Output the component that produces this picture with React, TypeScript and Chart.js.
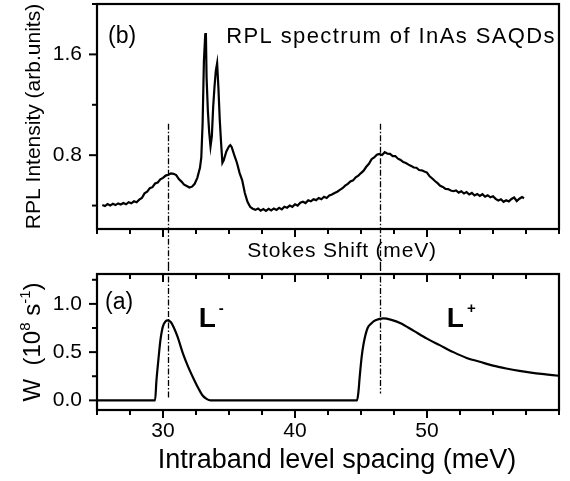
import { useEffect, useRef } from "react";
import { Chart, registerables } from "chart.js";

Chart.register(...registerables);

const FONT = '"Liberation Sans", Arial, Helvetica, sans-serif';

// ---- Panel (b): RPL spectrum (Stokes shift in meV, intensity in arb. units)
const rplShift = [
  25.4, 25.6, 25.8, 26.0, 26.2, 26.4, 26.6, 26.8, 27.0, 27.2, 27.4, 27.6, 27.8, 28.0, 28.2, 28.4, 28.6, 28.8,
  29.0, 29.2, 29.4, 29.6, 29.8, 30.0, 30.2, 30.4, 30.6, 30.8, 31.0, 31.2, 31.4, 31.6, 31.8, 32.0, 32.2, 32.4,
  32.6, 32.8, 32.9, 33.0, 33.1, 33.2, 33.25, 33.3, 33.4, 33.5, 33.6, 33.7, 33.8, 33.9, 34.0, 34.1, 34.2, 34.3,
  34.4, 34.5, 34.6, 34.8, 35.0, 35.1, 35.2, 35.4, 35.6, 35.8, 36.0, 36.2, 36.4, 36.6, 36.8, 37.0, 37.2, 37.4,
  37.6, 37.8, 38.0, 38.2, 38.4, 38.6, 38.8, 39.0, 39.2, 39.4, 39.6, 39.8, 40.0, 40.2, 40.4, 40.6, 40.8, 41.0,
  41.2, 41.4, 41.6, 41.8, 42.0, 42.2, 42.4, 42.6, 42.8, 43.0, 43.2, 43.4, 43.6, 43.8, 44.0, 44.2, 44.4, 44.6,
  44.8, 45.0, 45.2, 45.4, 45.6, 45.8, 46.0, 46.2, 46.4, 46.6, 46.8, 47.0, 47.2, 47.4, 47.6, 47.8, 48.0, 48.2,
  48.4, 48.6, 48.8, 49.0, 49.2, 49.4, 49.6, 49.8, 50.0, 50.2, 50.4, 50.6, 50.8, 51.0, 51.2, 51.4, 51.6, 51.8,
  52.0, 52.2, 52.4, 52.6, 52.8, 53.0, 53.2, 53.4, 53.6, 53.8, 54.0, 54.2, 54.4, 54.6, 54.8, 55.0, 55.2, 55.4,
  55.6, 55.8, 56.0, 56.2, 56.4, 56.6, 56.8, 57.0, 57.2, 57.35,
];
const rplIntensity = [
  0.405, 0.396, 0.412, 0.4, 0.414, 0.404, 0.417, 0.408, 0.42, 0.41, 0.427, 0.418, 0.434, 0.426, 0.447, 0.46, 0.497, 0.51,
  0.538, 0.546, 0.575, 0.583, 0.608, 0.62, 0.638, 0.645, 0.655, 0.652, 0.642, 0.61, 0.59, 0.566, 0.555, 0.543, 0.55, 0.573,
  0.62, 0.7, 0.78, 1.05, 1.55, 1.76, 1.77, 1.42, 1.15, 0.98, 0.87, 0.95, 1.18, 1.34, 1.47, 1.53, 1.33, 1.08,
  0.9, 0.74, 0.76, 0.83, 0.87, 0.88, 0.865, 0.8, 0.74, 0.66, 0.6, 0.5, 0.43, 0.39, 0.375, 0.366, 0.377, 0.36,
  0.372, 0.358, 0.374, 0.361, 0.377, 0.366, 0.382, 0.37, 0.39, 0.383, 0.4, 0.39, 0.41, 0.4, 0.422, 0.43, 0.42, 0.442,
  0.434, 0.45, 0.443, 0.46, 0.45, 0.47, 0.46, 0.48, 0.488, 0.5, 0.51, 0.525, 0.538, 0.558, 0.572, 0.592, 0.6, 0.625,
  0.638, 0.658, 0.677, 0.708, 0.732, 0.768, 0.782, 0.803, 0.81, 0.802, 0.824, 0.812, 0.81, 0.792, 0.793, 0.772, 0.762, 0.745,
  0.738, 0.725, 0.715, 0.702, 0.7, 0.682, 0.68, 0.67, 0.662, 0.632, 0.615, 0.595, 0.578, 0.557, 0.548, 0.532, 0.531, 0.52,
  0.514, 0.52, 0.503, 0.514, 0.496, 0.507, 0.488, 0.5, 0.48, 0.492, 0.476, 0.49, 0.47, 0.482, 0.466, 0.474, 0.453, 0.44,
  0.45, 0.43, 0.442, 0.433, 0.452, 0.464, 0.436, 0.454, 0.467, 0.458,
];

// ---- Panel (a): transition rate W (1e8 s^-1) vs intraband level spacing (meV)
const levelSpacing = [
  25, 29.4, 29.5, 29.65, 29.8, 30.0, 30.2, 30.35, 30.6, 30.8, 31.1, 31.5, 31.9, 32.3, 32.7, 33.0, 33.3, 33.6,
  44.7, 44.8, 44.9, 45.05, 45.2, 45.5, 45.8, 46.1, 46.7, 47.3, 48.0, 49.0, 50.0, 51.0, 52.0, 53.0, 54.0, 55.0,
  56.0, 57.0, 58.0, 59.0, 60.0,
];
const transitionRate = [
  0, 0, 0.2, 0.42, 0.62, 0.77, 0.82, 0.83, 0.81, 0.76, 0.66, 0.49, 0.35, 0.23, 0.12, 0.05, 0.015, 0,
  0, 0.08, 0.24, 0.45, 0.59, 0.75, 0.8, 0.83, 0.85, 0.835, 0.8, 0.72, 0.64, 0.57, 0.5, 0.44, 0.4, 0.36,
  0.33, 0.305, 0.285, 0.27, 0.255,
];

// dash-dot guide lines linking the peaks of both panels
const markerShifts = [30.38, 46.45];
const rplMarkerTop = [1.05, 1.05];
const rateMarkerBottom = [0.02, 0.07];

// tick labels
const xMajorLabels = [30, 40, 50];
const rplMajorLabels = [0.8, 1.6];
const rateMajorLabels = [0, 0.5, 1.0];

const X_MIN = 25;
const X_MAX = 60;
const X_STEP = 2.5;

const isIn = (v: number, arr: number[]) => arr.some((a) => Math.abs(a - v) < 1e-6);

function seg(ctx: CanvasRenderingContext2D, x1: number, y1: number, x2: number, y2: number) {
  ctx.beginPath();
  ctx.moveTo(x1, y1);
  ctx.lineTo(x2, y2);
  ctx.stroke();
}

function txt(
  ctx: CanvasRenderingContext2D,
  s: string,
  x: number,
  y: number,
  font: string,
  align: CanvasTextAlign = "left",
  spacing = "0px"
) {
  ctx.font = font;
  ctx.textAlign = align;
  ctx.textBaseline = "alphabetic";
  (ctx as any).letterSpacing = spacing;
  ctx.fillStyle = "#000";
  ctx.fillText(s, x, y);
  (ctx as any).letterSpacing = "0px";
}

function drawFrame(chart: any, yMajors: number[], topInward: boolean) {
  const ctx: CanvasRenderingContext2D = chart.ctx;
  const a = chart.chartArea;
  const xs = chart.scales.x;
  const ys = chart.scales.y;
  ctx.strokeStyle = "#000";
  ctx.setLineDash([]);
  ctx.lineWidth = 2.2;
  ctx.strokeRect(a.left, a.top, a.right - a.left, a.bottom - a.top);
  ctx.lineWidth = 2;
  xs.ticks.forEach((t: any) => {
    const px = xs.getPixelForValue(t.value);
    const len = isIn(t.value, xMajorLabels) ? 8 : 5;
    seg(ctx, px, a.bottom, px, a.bottom + len);
    if (topInward) seg(ctx, px, a.top, px, a.top + len);
  });
  ys.ticks.forEach((t: any) => {
    const py = ys.getPixelForValue(t.value);
    const len = isIn(t.value, yMajors) ? 8 : 5;
    seg(ctx, a.left - len, py, a.left, py);
  });
}

function drawMarkers(chart: any, fromValueDown: boolean, yVals: number[]) {
  const ctx: CanvasRenderingContext2D = chart.ctx;
  const xs = chart.scales.x;
  const ys = chart.scales.y;
  ctx.save();
  ctx.strokeStyle = "#000";
  ctx.lineWidth = 1.3;
  ctx.setLineDash([6, 2, 1.5, 2]);
  markerShifts.forEach((m, i) => {
    const px = Math.round(xs.getPixelForValue(m)) + 0.5;
    const py = ys.getPixelForValue(yVals[i]);
    if (fromValueDown) seg(ctx, px, py, px, chart.height);
    else seg(ctx, px, 0, px, py);
  });
  ctx.restore();
}

const topDeco = {
  id: "topDeco",
  afterDraw(chart: any) {
    const ctx: CanvasRenderingContext2D = chart.ctx;
    const a = chart.chartArea;
    ctx.save();
    drawFrame(chart, rplMajorLabels, false);
    drawMarkers(chart, true, rplMarkerTop);
    txt(ctx, "(b)", a.left + 11, a.top + 39, `23px ${FONT}`);
    txt(ctx, "RPL spectrum of InAs SAQDs", a.right - 3, a.top + 39, `22px ${FONT}`, "right", "1.4px");
    txt(ctx, "Stokes Shift (meV)", (a.left + a.right) / 2 + 14, a.bottom + 28, `21px ${FONT}`, "center", "0.8px");
    ctx.save();
    ctx.translate(40, (a.top + a.bottom) / 2);
    ctx.rotate(-Math.PI / 2);
    txt(ctx, "RPL Intensity (arb.units)", 0, 0, `21px ${FONT}`, "center");
    ctx.restore();
    ctx.restore();
  },
};

const botDeco = {
  id: "botDeco",
  afterDraw(chart: any) {
    const ctx: CanvasRenderingContext2D = chart.ctx;
    const a = chart.chartArea;
    const xs = chart.scales.x;
    const ys = chart.scales.y;
    ctx.save();
    drawFrame(chart, rateMajorLabels, true);
    drawMarkers(chart, false, rateMarkerBottom);
    txt(ctx, "(a)", a.left + 8, a.top + 35, `23px ${FONT}`);
    // L- and L+ labels
    const bold = `bold 28px ${FONT}`;
    const sup = `bold 15px ${FONT}`;
    const lab = (xv: number, sign: string) => {
      const px = xs.getPixelForValue(xv);
      const py = ys.getPixelForValue(0.76);
      txt(ctx, "L", px, py, bold);
      ctx.font = bold;
      const w = ctx.measureText("L").width;
      txt(ctx, sign, px + w + 3, py - 14, sup);
    };
    lab(32.7, "-");
    lab(51.5, "+");
    // y title with superscripts
    ctx.save();
    ctx.translate(40, (a.top + a.bottom) / 2);
    ctx.rotate(-Math.PI / 2);
    const big = `24px ${FONT}`;
    const small = `15px ${FONT}`;
    const parts: [string, string, number][] = [
      ["W  (10", big, 0],
      ["8", small, -10],
      [" s", big, 0],
      ["-1", small, -10],
      [")", big, 0],
    ];
    let total = 0;
    parts.forEach(([s, f]) => {
      ctx.font = f;
      total += ctx.measureText(s).width;
    });
    let x = -total / 2;
    parts.forEach(([s, f, dy]) => {
      txt(ctx, s, x, dy, f);
      ctx.font = f;
      x += ctx.measureText(s).width;
    });
    ctx.restore();
    txt(ctx, "Intraband level spacing (meV)", (a.left + a.right) / 2 + 9, a.bottom + 58, `27px ${FONT}`, "center");
    ctx.restore();
  },
};

function commonX(showLabels: boolean, height: number) {
  return {
    type: "linear" as const,
    min: X_MIN,
    max: X_MAX,
    ticks: {
      display: showLabels,
      stepSize: X_STEP,
      autoSkip: false,
      includeBounds: false,
      maxRotation: 0,
      minRotation: 0,
      padding: 9,
      color: "#000",
      font: { family: FONT, size: 21 },
      callback: (v: any) => (isIn(Number(v), xMajorLabels) ? String(v) : ""),
    },
    grid: { display: false, drawTicks: false },
    border: { display: false },
    afterFit: (s: any) => {
      s.height = height;
      s.paddingLeft = 0;
      s.paddingRight = 0;
    },
  };
}

function yScale(min: number, max: number, step: number, majors: number[]) {
  return {
    type: "linear" as const,
    min,
    max,
    ticks: {
      stepSize: step,
      autoSkip: false,
      includeBounds: false,
      padding: 15,
      color: "#000",
      font: { family: FONT, size: 21 },
      callback: (v: any) => (isIn(Number(v), majors) ? Number(v).toFixed(1) : ""),
    },
    grid: { display: false, drawTicks: false },
    border: { display: false },
    afterFit: (s: any) => {
      s.width = 97;
      s.paddingTop = 0;
      s.paddingBottom = 0;
    },
  };
}

export default function App() {
  const topRef = useRef<HTMLCanvasElement>(null);
  const botRef = useRef<HTMLCanvasElement>(null);

  useEffect(() => {
    const top = new Chart(topRef.current!, {
      type: "line",
      data: {
        datasets: [
          {
            data: rplShift.map((x, i) => ({ x, y: rplIntensity[i] })),
            borderColor: "#000",
            borderWidth: 2.2,
            pointRadius: 0,
            tension: 0,
          },
        ],
      },
      options: {
        responsive: false,
        animation: false,
        devicePixelRatio: 1,
        layout: { padding: { top: 4, right: 11, left: 0, bottom: 0 }, autoPadding: false },
        plugins: { legend: { display: false }, tooltip: { enabled: false } },
        scales: {
          x: commonX(false, 36),
          y: yScale(0.214, 2.0, 0.4, rplMajorLabels),
        },
      } as any,
      plugins: [topDeco],
    });

    const bot = new Chart(botRef.current!, {
      type: "line",
      data: {
        datasets: [
          {
            data: levelSpacing.map((x, i) => ({ x, y: transitionRate[i] })),
            borderColor: "#000",
            borderWidth: 2.2,
            pointRadius: 0,
            cubicInterpolationMode: "monotone",
          },
        ],
      },
      options: {
        responsive: false,
        animation: false,
        devicePixelRatio: 1,
        layout: { padding: { top: 9, right: 11, left: 0, bottom: 0 }, autoPadding: false },
        plugins: { legend: { display: false }, tooltip: { enabled: false } },
        scales: {
          x: commonX(true, 71),
          y: yScale(-0.1, 1.31, 0.25, rateMajorLabels),
        },
      } as any,
      plugins: [botDeco],
    });

    return () => {
      top.destroy();
      bot.destroy();
    };
  }, []);

  return (
    <div style={{ position: "absolute", left: 0, top: 0, width: 570, height: 481, background: "#fff" }}>
      <canvas ref={topRef} width={570} height={265} style={{ position: "absolute", left: 0, top: 0 }} />
      <canvas ref={botRef} width={570} height={216} style={{ position: "absolute", left: 0, top: 265 }} />
    </div>
  );
}
